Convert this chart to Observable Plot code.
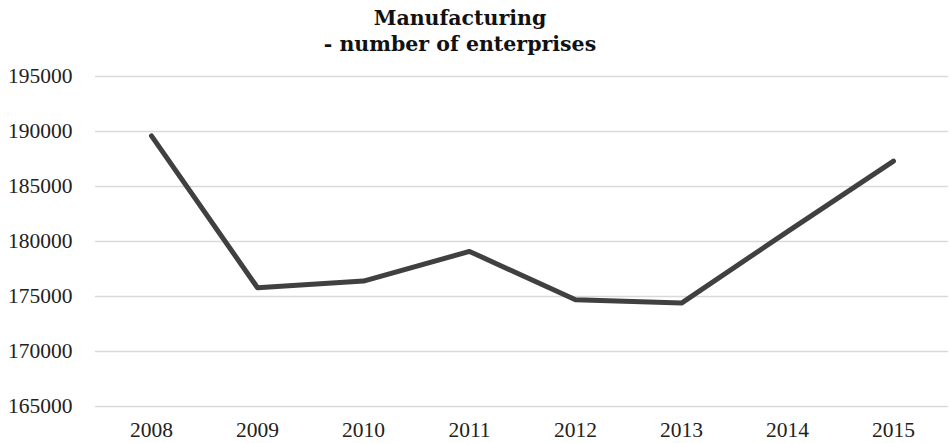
<!DOCTYPE html>
<html>
<head>
<meta charset="utf-8">
<script src="https://cdn.jsdelivr.net/npm/d3@7"></script>
<script src="https://cdn.jsdelivr.net/npm/@observablehq/plot@0.6"></script>
<style>
  html, body { margin: 0; padding: 0; background: #fff; }
  #wrap { position: relative; width: 950px; height: 443px; }
  #title {
    position: absolute; top: 5px; left: 0; width: 920px; padding-right: 30px;
    text-align: center; font-family: "DejaVu Serif", serif; font-weight: bold;
    font-size: 20.5px; line-height: 26px; color: #111;
  }
  #chart { position: absolute; top: 0; left: 0; }
</style>
</head>
<body>
<div id="wrap">
  <div id="chart"></div>
  <div id="title">Manufacturing<br>- number of enterprises</div>
</div>
<script>
const years = ["2008", "2009", "2010", "2011", "2012", "2013", "2014", "2015"];
const enterprises = [189600, 175800, 176400, 179100, 174700, 174400, 180900, 187300];
const yTicks = [165000, 170000, 175000, 180000, 185000, 190000, 195000];

const data = years.map((year, i) => ({year, value: enterprises[i]}));

const chart = Plot.plot({
  width: 950,
  height: 443,
  marginTop: 76,
  marginBottom: 37,
  marginLeft: 95,
  marginRight: 2,
  style: {fontFamily: "Liberation Serif, serif", fontSize: "21.5px", color: "#222", background: "#fff", overflow: "visible"},
  x: {type: "point", domain: years, padding: 0.5, label: null},
  y: {domain: [165000, 195000], ticks: yTicks, tickFormat: "d", label: null},
  marks: [
    Plot.ruleY(yTicks, {stroke: "#d9d9d9", strokeWidth: 1.3}),
    Plot.axisY({ticks: yTicks, tickFormat: "d", tickSize: 0, tickPadding: 23, label: null, fontSize: 21.5}),
    Plot.axisX({tickSize: 0, tickPadding: 15, label: null, fontSize: 21.5}),
    Plot.line(data, {x: "year", y: "value", stroke: "#404040", strokeWidth: 5, strokeLinecap: "round", strokeLinejoin: "round"})
  ]
});
document.getElementById("chart").appendChild(chart);
</script>
</body>
</html>
